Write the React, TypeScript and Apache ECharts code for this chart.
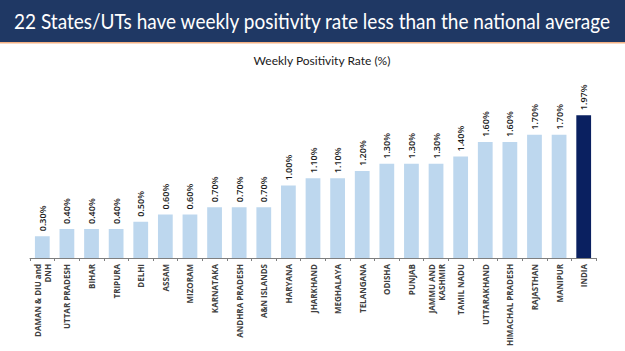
import React, { useEffect, useRef } from "react";
import * as echarts from "echarts";

const titleText = "22 States/UTs have weekly positivity rate less than the national average";
const subtitleText = "Weekly Positivity Rate (%)";

const categories = [
  "DAMAN & DIU and\nDNH",
  "UTTAR PRADESH",
  "BIHAR",
  "TRIPURA",
  "DELHI",
  "ASSAM",
  "MIZORAM",
  "KARNATAKA",
  "ANDHRA PRADESH",
  "A&N ISLANDS",
  "HARYANA",
  "JHARKHAND",
  "MEGHALAYA",
  "TELANGANA",
  "ODISHA",
  "PUNJAB",
  "JAMMU AND\nKASHMIR",
  "TAMIL NADU",
  "UTTARAKHAND",
  "HIMACHAL PRADESH",
  "RAJASTHAN",
  "MANIPUR",
  "INDIA",
];

const values = [0.3, 0.4, 0.4, 0.4, 0.5, 0.6, 0.6, 0.7, 0.7, 0.7, 1.0, 1.1, 1.1, 1.2, 1.3, 1.3, 1.3, 1.4, 1.6, 1.6, 1.7, 1.7, 1.97];

const highlight = "INDIA";

function measure(text: string, font: string): number {
  const c = document.createElement("canvas").getContext("2d");
  if (!c) return 600;
  c.font = font;
  return c.measureText(text).width;
}

export default function App() {
  const ref = useRef<HTMLDivElement>(null);
  useEffect(() => {
    if (!ref.current) return;
    const chart = echarts.init(ref.current, null, { renderer: "svg" });
    const titleFont = "21px Lato";
    const tw = measure(titleText, titleFont);
    const sx = Math.min(1, 598 / tw);
    const data = values.map((v, i) => ({
      value: v,
      itemStyle: { color: categories[i] === highlight ? "#0A2060" : "#BDD7EE" },
    }));
    chart.setOption({
      animation: false,
      backgroundColor: "#ffffff",
      graphic: [
        { type: "rect", shape: { x: 0, y: 0, width: 625, height: 42 }, style: { fill: "#1F3864" } },
        { type: "rect", shape: { x: 0, y: 42, width: 625, height: 1.5 }, style: { fill: "#F4B183" } },
        {
          type: "text",
          x: 312,
          y: 21,
          scaleX: sx,
          style: {
            text: titleText,
            fill: "#ffffff",
            font: titleFont,
            align: "center",
            verticalAlign: "middle",
          },
        },
        {
          type: "text",
          x: 322,
          y: 60,
          style: {
            text: subtitleText,
            fill: "#1a1a1a",
            font: "12px Lato",
            align: "center",
            verticalAlign: "middle",
          },
        },
      ],
      grid: { left: 30, right: 29, top: 98.5, bottom: 93 },
      xAxis: {
        type: "category",
        data: categories,
        axisLine: { lineStyle: { color: "#7F7F7F", width: 1 } },
        axisTick: { show: true, length: 3, lineStyle: { color: "#7F7F7F" } },
        axisLabel: {
          rotate: 90,
          interval: 0,
          fontSize: 8,
          fontWeight: "bold",
          color: "#404040",
          fontFamily: "Open Sans",
          lineHeight: 10,
          margin: 6,
          align: "right",
        },
      },
      yAxis: {
        type: "value",
        min: 0,
        max: 2.2,
        show: false,
        splitLine: { show: false },
      },
      series: [
        {
          type: "bar",
          data,
          barWidth: "60%",
          label: {
            show: true,
            position: "top",
            rotate: 90,
            align: "left",
            verticalAlign: "middle",
            distance: 5,
            fontSize: 9,
            fontWeight: 600,
            color: "#1a1a1a",
            fontFamily: "Open Sans",
            formatter: (p: any) => p.value.toFixed(2) + "%",
          },
        },
      ],
    });
    return () => chart.dispose();
  }, []);
  return <div ref={ref} style={{ width: 625, height: 351, position: "absolute", left: 0, top: 0 }} />;
}
